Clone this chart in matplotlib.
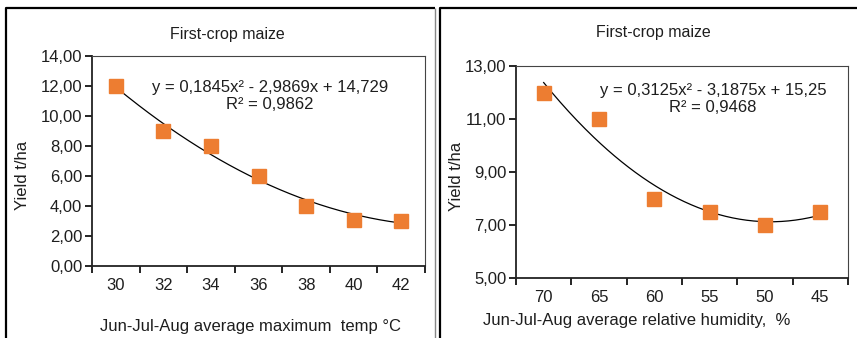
"""Two Excel-style scatter panels: first-crop maize yield vs temperature and humidity."""

import matplotlib.pyplot as plt
import numpy as np
from matplotlib.lines import Line2D
from matplotlib.ticker import FuncFormatter

plt.rcParams['font.family'] = ['Liberation Sans', 'DejaVu Sans']

# Left panel: yield vs Jun-Jul-Aug average maximum temperature
temp_labels = ["30", "32", "34", "36", "38", "40", "42"]
temp_yield = [12.0, 9.0, 8.0, 6.0, 4.0, 3.1, 3.0]
temp_coef = [0.1845, -2.9869, 14.729]
temp_eq = "y = 0,1845x\u00b2 - 2,9869x + 14,729\nR\u00b2 = 0,9862"

# Right panel: yield vs Jun-Jul-Aug average relative humidity
hum_labels = ["70", "65", "60", "55", "50", "45"]
hum_yield = [12.0, 11.0, 8.0, 7.5, 7.0, 7.5]
hum_coef = [0.3125, -3.1875, 15.25]
hum_eq = "y = 0,3125x\u00b2 - 3,1875x + 15,25\nR\u00b2 = 0,9468"

W, H = 857, 338
ORANGE = "#ED7D31"
FS = 12
TXT = "#1e1e1e"


def px_axes(fig, x0, y0, x1, y1):
    # pixel box (top-left origin) -> figure fraction
    return fig.add_axes([x0 / W, 1 - y1 / H, (x1 - x0) / W, (y1 - y0) / H])


def comma_fmt(v, _):
    return f"{v:.2f}".replace(".", ",")


def panel(ax, labels, yields, coef, eq, ylim, yticks, xlabel, title,
          eq_xy, title_y, xlabel_y, ylab_xy):
    n = len(labels)
    x = np.arange(1, n + 1)
    xs = np.linspace(1, n, 200)
    ax.plot(xs, np.polyval(coef, xs), color="black", lw=0.9, zorder=2)
    ax.plot(x, yields, "s", color=ORANGE, ms=9.5, mec=ORANGE, zorder=3)

    ax.set_xlim(0.5, n + 0.5)
    ax.set_ylim(*ylim)
    ax.set_xticks(np.arange(0.5, n + 1.0, 1.0))
    ax.set_xticklabels([])
    ax.set_xticks(x, minor=True)
    ax.set_xticklabels(labels, minor=True, fontsize=FS, color=TXT)
    ax.tick_params(axis="x", which="minor", length=0, pad=9)
    ax.tick_params(axis="x", which="major", length=5, width=1.2, direction="out")
    ax.set_yticks(yticks)
    ax.yaxis.set_major_formatter(FuncFormatter(comma_fmt))
    ax.tick_params(axis="y", length=5, width=1.2, labelsize=FS,
                   labelcolor=TXT, pad=2)
    for s in ("left", "bottom"):
        ax.spines[s].set_linewidth(1.3)
        ax.spines[s].set_color("#222222")
    for s in ("top", "right"):
        ax.spines[s].set_linewidth(0.8)
        ax.spines[s].set_color("#444444")
    ax.set_ylabel("Yield t/ha", fontsize=FS, color=TXT)
    ax.yaxis.set_label_coords(*ylab_xy)

    fig = ax.figure
    fig.text(eq_xy[0] / W, 1 - eq_xy[1] / H, eq, ha="center", va="top",
             fontsize=FS, color=TXT, linespacing=1.15)
    fig.text(title[1] / W, 1 - title_y / H, title[0], ha="center",
             va="center", fontsize=11.5, color=TXT)
    fig.text(xlabel[1] / W, 1 - xlabel_y / H, xlabel[0], ha="center",
             va="center", fontsize=FS, color=TXT)


fig = plt.figure(figsize=(W / 100, H / 100), dpi=100)


# panel frames
def fline(xs, ys, color, lw):
    fig.add_artist(Line2D([v / W for v in xs], [1 - v / H for v in ys],
                          color=color, lw=lw, transform=fig.transFigure,
                          solid_capstyle="butt"))


fline([5.5, 5.5, 435], [338, 7.5, 7.5], "black", 1.6)
fline([435, 435], [7.5, 338], "#888888", 1.0)
fline([439.5, 439.5, 857], [338, 7.5, 7.5], "black", 1.6)

ax1 = px_axes(fig, 92, 56, 425, 266)
panel(ax1, temp_labels, temp_yield, temp_coef, temp_eq,
      (0, 14), np.arange(0, 15, 2),
      ("Jun-Jul-Aug average maximum  temp \u00b0C", 250),
      ("First-crop maize", 227), (270, 80), 34, 327, (-0.185, 0.43))

ax2 = px_axes(fig, 516, 66, 848, 278)
panel(ax2, hum_labels, hum_yield, hum_coef, hum_eq,
      (5, 13), np.arange(5, 14, 2),
      ("Jun-Jul-Aug average relative humidity,  %", 637),
      ("First-crop maize", 653), (713, 83), 32, 320, (-0.156, 0.48))

fig.savefig("out.png", dpi=100)
